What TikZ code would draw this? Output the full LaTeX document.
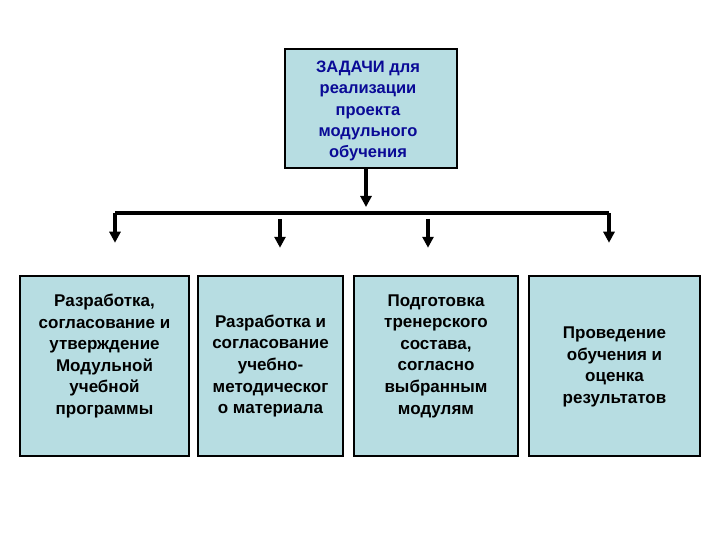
\documentclass[tikz,border=0pt]{standalone}
\usepackage{fontspec}
\setmainfont{Liberation Sans}
\usetikzlibrary{arrows.meta}
\definecolor{boxfill}{RGB}{183,221,226}
\definecolor{taskblue}{RGB}{10,10,150}
\tikzset{
  taskbox/.style={draw=black, line width=2.5pt, fill=boxfill, inner sep=0pt},
  tasktext/.style={font=\bfseries\fontsize{17}{21.6}\selectfont, align=center, inner sep=0pt},
  arr/.style={line width=3.5pt, -{Triangle[width=11pt,length=11pt]}},
}
\begin{document}
\begin{tikzpicture}[x=1pt, y=-1pt]
  \useasboundingbox (0,0) rectangle (720,540);
  % main task
  \node[taskbox, minimum width=172pt, minimum height=119pt] (top) at (371,108.5) {};
  \node[tasktext, text=taskblue, font=\bfseries\fontsize{16.5}{21.2}\selectfont] (toptext) at (368,111)
    {ЗАДАЧИ для\\реализации\\проекта\\модульного\\обучения};
  % sub tasks
  \node[taskbox, minimum width=169pt, minimum height=180pt] (b1) at (104.5,366) {};
  \node[taskbox, minimum width=145pt, minimum height=180pt] (b2) at (270.5,366) {};
  \node[taskbox, minimum width=164pt, minimum height=180pt] (b3) at (436,366) {};
  \node[taskbox, minimum width=171pt, minimum height=180pt] (b4) at (614.5,366) {};
  \node[tasktext] (t1) at (104.5,356)
    {Разработка,\\согласование и\\утверждение\\Модульной\\учебной\\программы};
  \node[tasktext] (t2) at (270.5,366)
    {Разработка и\\согласование\\учебно-\\методическог\\о материала};
  \node[tasktext] (t3) at (436,356)
    {Подготовка\\тренерского\\состава,\\согласно\\выбранным\\модулям};
  \node[tasktext] (t4) at (614.5,367)
    {Проведение\\обучения и\\оценка\\результатов};
  % connectors
  \coordinate (mid) at (366,213);
  \coordinate (left) at (115,213);
  \coordinate (right) at (609,213);
  \coordinate (s2) at (280,219);
  \coordinate (s3) at (428,219);
  \draw[arr, shorten >=6pt] (top.south -| mid) -- (mid);
  \draw[line width=3.5pt] (left) -- (right);
  \begin{scope}[arr]
    \draw[shorten >=32pt] (left) -- (left |- b1.north);
    \draw[shorten >=32pt] (right) -- (right |- b4.north);
    \draw[shorten >=27pt] (s2) -- (s2 |- b2.north);
    \draw[shorten >=27pt] (s3) -- (s3 |- b3.north);
  \end{scope}
\end{tikzpicture}
\end{document}
